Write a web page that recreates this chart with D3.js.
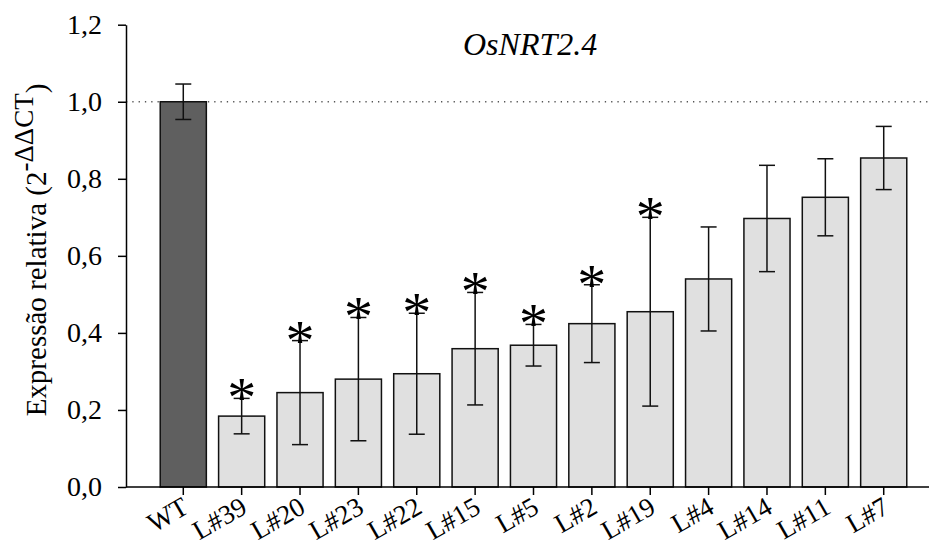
<!DOCTYPE html>
<html>
<head>
<meta charset="utf-8">
<script src="https://cdn.jsdelivr.net/npm/d3@7"></script>
<style>
  body { margin: 0; background: #fff; }
  svg text { font-family: "Liberation Serif", "Times New Roman", serif; fill: #000; }
</style>
</head>
<body>
<div id="chart"></div>
<script>
// relative expression of OsNRT2.4 per line, WT = 1
const categories = ['WT', 'L#39', 'L#20', 'L#23', 'L#22', 'L#15', 'L#5', 'L#2', 'L#19', 'L#4', 'L#14', 'L#11', 'L#7'];
const values = [1.0, 0.184, 0.245, 0.280, 0.294, 0.359, 0.368, 0.424, 0.455, 0.540, 0.697, 0.752, 0.854];
const errors = [0.046, 0.046, 0.135, 0.160, 0.157, 0.146, 0.054, 0.101, 0.245, 0.135, 0.138, 0.100, 0.082];
const significant = [false, true, true, true, true, true, true, true, true, false, false, false, false];
const yTicks = [0, 0.2, 0.4, 0.6, 0.8, 1.0, 1.2];

const svgWidth = 929;
const svgHeight = 545;

const data = categories.map((c, i) => ({ name: c, value: values[i], err: errors[i], sig: significant[i] }));

const svg = d3.select('#chart')
    .append('svg')
    .attr('width', svgWidth)
    .attr('height', svgHeight);

const xScale = d3.scaleBand()
    .domain(categories)
    .range([154.1, 912.9])
    .paddingInner(0.21)
    .paddingOuter(0.105);
const yScale = d3.scaleLinear()
    .domain([0, 1.2])
    .range([487, 24.7]);

const axisLeftX = 126;
const comma = d3.formatLocale({ decimal: ',', thousands: '.', grouping: [3], currency: ['', ''] }).format('.1f');

// reference line at 1.0
svg.append('line')
    .attr('x1', axisLeftX)
    .attr('x2', svgWidth)
    .attr('y1', yScale(1))
    .attr('y2', yScale(1))
    .attr('stroke', '#555')
    .attr('stroke-width', 1.3)
    .attr('stroke-dasharray', '1.3,5');

// bars
svg.selectAll('rect.bar')
    .data(data)
    .enter()
    .append('rect')
    .attr('class', 'bar')
    .attr('x', d => xScale(d.name))
    .attr('y', d => yScale(d.value))
    .attr('width', xScale.bandwidth())
    .attr('height', d => yScale(0) - yScale(d.value))
    .attr('fill', d => d.name === 'WT' ? '#5f5f5f' : '#e0e0e0')
    .attr('stroke', '#111')
    .attr('stroke-width', 1.5);

// error bars
const cx = d => xScale(d.name) + xScale.bandwidth() / 2;
const eb = svg.append('g').attr('stroke', '#111').attr('stroke-width', 1.5);
eb.selectAll('line.v')
    .data(data)
    .enter()
    .append('line')
    .attr('x1', cx).attr('x2', cx)
    .attr('y1', d => yScale(d.value - d.err))
    .attr('y2', d => yScale(d.value + d.err));
['+', '-'].forEach(s => {
    eb.selectAll('line.cap' + (s === '+' ? 'top' : 'bot'))
        .data(data)
        .enter()
        .append('line')
        .attr('x1', d => cx(d) - 8).attr('x2', d => cx(d) + 8)
        .attr('y1', d => yScale(s === '+' ? d.value + d.err : d.value - d.err))
        .attr('y2', d => yScale(s === '+' ? d.value + d.err : d.value - d.err));
});

// asterisks
svg.selectAll('text.star')
    .data(data.filter(d => d.sig))
    .enter()
    .append('text')
    .attr('class', 'star')
    .attr('x', cx)
    .attr('y', d => yScale(d.value + d.err) + 19)
    .attr('text-anchor', 'middle')
    .style('font-size', '58px')
    .text('*');

// y axis
const yAxis = svg.append('g')
    .attr('transform', `translate(${axisLeftX},0)`)
    .call(d3.axisLeft(yScale).tickValues(yTicks).tickFormat(comma).tickSize(8).tickSizeOuter(0).tickPadding(16));
yAxis.select('.domain').attr('stroke', '#000').attr('stroke-width', 1.5);
yAxis.selectAll('.tick line').attr('stroke', '#000').attr('stroke-width', 1.5);
yAxis.selectAll('.tick text')
    .style('font-family', '"Liberation Serif", serif')
    .style('font-size', '28px');

// x axis
const xAxis = svg.append('g')
    .attr('transform', `translate(0,${yScale(0)})`)
    .call(d3.axisBottom(xScale).tickSize(8).tickSizeOuter(0));
xAxis.select('.domain')
    .attr('d', `M${axisLeftX},0H${svgWidth}`)
    .attr('stroke', '#000').attr('stroke-width', 1.5);
xAxis.selectAll('.tick line').attr('stroke', '#000').attr('stroke-width', 1.5);
xAxis.selectAll('.tick text')
    .style('font-family', '"Liberation Serif", serif')
    .style('font-size', '27px')
    .attr('text-anchor', 'end')
    .attr('dy', null)
    .attr('y', null)
    .attr('transform', 'translate(7,25) rotate(-30)');

// title
svg.append('text')
    .attr('x', 463)
    .attr('y', 55)
    .style('font-size', '32px')
    .style('font-style', 'italic')
    .text('OsNRT2.4');

// y label
const yl = svg.append('text')
    .attr('transform', 'translate(46,250) rotate(-90)')
    .attr('text-anchor', 'middle')
    .style('font-size', '29px');
yl.append('tspan').text('Expressão relativa (2');
yl.append('tspan').attr('dy', -13).style('font-size', '27px').text('-ΔΔCT');
yl.append('tspan').attr('dy', 13).text(')');
</script>
</body>
</html>
